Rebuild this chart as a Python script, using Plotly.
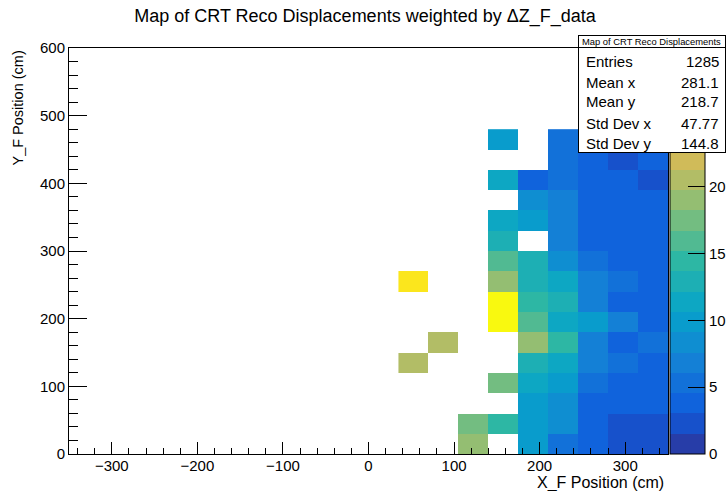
import numpy as np
import plotly.graph_objects as go

# ---------------- data ----------------
x_edges = [35, 70, 105, 140, 175, 210, 245, 280, 315, 350]          # cm
y_edges = [0, 30, 60, 90, 120, 150, 180, 210, 240, 270, 300, 330, 360, 390, 420, 450, 480]  # cm
N = None
# rows from y=0 upward, columns x=35..350
z_rows = [
    [N,    N,    19.0, N,    9.9,  5.3,  3.8, 2.3, 2.3],
    [N,    N,    17.5, 14.4, 9.9,  8.4,  3.8, 2.3, 2.3],
    [N,    N,    N,    N,    9.9,  8.4,  3.8, 3.8, 3.8],
    [N,    N,    N,    17.5, 11.4, 9.9,  5.3, 3.8, 3.8],
    [20.5, N,    N,    N,    12.9, 11.4, 6.8, 5.3, 3.8],
    [N,    20.5, N,    N,    19.0, 14.4, 6.8, 3.8, 5.3],
    [N,    N,    N,    30.4, 16.0, 11.4, 9.9, 6.8, 3.8],
    [N,    N,    N,    29.9, 14.4, 12.9, 6.8, 3.8, 3.8],
    [28.1, N,    N,    19.0, 12.9, 11.4, 6.8, 5.3, 3.8],
    [N,    N,    N,    16.0, 12.9, 8.4,  5.3, 3.8, 3.8],
    [N,    N,    N,    12.9, N,    6.8,  3.8, 3.8, 3.8],
    [N,    N,    N,    11.4, 9.9,  6.8,  3.8, 3.8, 3.8],
    [N,    N,    N,    N,    8.4,  6.8,  3.8, 3.8, 3.8],
    [N,    N,    N,    11.4, 3.8,  5.3,  3.8, 3.8, 2.3],
    [N,    N,    N,    N,    N,    5.3,  3.8, 2.3, 3.8],
    [N,    N,    N,    9.9,  N,    5.3,  N,   N,   N],
]
z_max = 30.4
stat_labels = ["Entries", "Mean x", "Mean y", "Std Dev x", "Std Dev y"]
stat_values = ["1285", "281.1", "218.7", "47.77", "144.8"]

# ---------------- kBird palette, 20 contour bands ----------------
stops = np.linspace(0, 1, 9)
red = [0.2082, 0.0592, 0.0780, 0.0232, 0.1802, 0.5301, 0.8186, 0.9956, 0.9764]
green = [0.1664, 0.3599, 0.5041, 0.6419, 0.7178, 0.7492, 0.7328, 0.7862, 0.9832]
blue = [0.5293, 0.8684, 0.8385, 0.7914, 0.6425, 0.4662, 0.3499, 0.1968, 0.0539]
ndiv = 20
cscale = []
for i in range(ndiv):
    t = int((i + 0.99) * 255 / ndiv) / 255.0
    r = np.interp(t, stops, red); g = np.interp(t, stops, green); b = np.interp(t, stops, blue)
    col = "rgb(%d,%d,%d)" % (round(r * 255), round(g * 255), round(b * 255))
    cscale.append([i / ndiv, col])
    cscale.append([(i + 1) / ndiv, col])

# ---------------- geometry (pixels) ----------------
W, H = 727, 491
L, R, T, B = 69, 668, 48, 454
pw, ph = R - L, B - T
def px(x):
    return (x - L) / pw
def py(y):
    return (B - y) / ph

FONT = "Liberation Sans, Arial, sans-serif"

fig = go.Figure()
fig.add_trace(go.Heatmap(
    x=x_edges, y=y_edges, z=z_rows,
    zmin=0, zmax=z_max, colorscale=cscale,
    hoverongaps=False,
    colorbar=dict(
        x=px(670), xanchor="left", xpad=0,
        y=0, yanchor="bottom", ypad=0, len=1, lenmode="fraction",
        thickness=35, thicknessmode="pixels",
        outlinecolor="black", outlinewidth=1,
        tickmode="array", tickvals=[0, 5, 10, 15, 20], ticktext=["0", "5", "10", "15", "20"],
        ticks="inside", ticklen=17, tickcolor="black", tickwidth=1,
        tickfont=dict(family=FONT, size=15, color="black"),
    ),
))

axis_common = dict(
    showgrid=False, zeroline=False, showline=True, mirror=True,
    linecolor="black", linewidth=1, ticks="inside", tickcolor="black", tickwidth=1,
    tickfont=dict(family=FONT, size=15, color="black"),
)
fig.update_xaxes(range=[-350, 350], tickmode="linear", tick0=-300, dtick=100, ticklen=12,
                 ticklabelstandoff=-2,
                 minor=dict(dtick=20, tick0=0, ticklen=6, ticks="inside", tickcolor="black", showgrid=False),
                 **axis_common)
fig.update_yaxes(range=[0, 600], tickmode="linear", tick0=0, dtick=100, ticklen=18,
                 minor=dict(dtick=20, tick0=0, ticklen=9, ticks="inside", tickcolor="black", showgrid=False),
                 **axis_common)

ann = []
# axis titles
ann.append(dict(text="X_F Position (cm)", xref="paper", yref="paper", x=px(666), y=py(483),
                xanchor="right", yanchor="middle", showarrow=False,
                font=dict(family=FONT, size=16, color="black")))
ann.append(dict(text="Y_F Position (cm)", xref="paper", yref="paper", x=px(17), y=py(49),
                xanchor="center", yanchor="top", textangle=-90, showarrow=False,
                font=dict(family=FONT, size=14.5, color="black")))
# stats box
bx0, bx1, by0, by1 = 578, 725, 35, 152
ann.append(dict(text=" ", xref="paper", yref="paper", x=px(bx0), y=py(by0), xanchor="left", yanchor="top",
                width=bx1 - bx0 - 1, height=by1 - by0 - 1, showarrow=False, bgcolor="white",
                bordercolor="black", borderwidth=1, borderpad=0))
ann.append(dict(text=" ", xref="paper", yref="paper", x=px(bx0), y=py(by0), xanchor="left", yanchor="top",
                width=bx1 - bx0 - 1, height=47 - by0 - 1, showarrow=False, bgcolor="white",
                bordercolor="black", borderwidth=1, borderpad=0))
ann.append(dict(text="Map of CRT Reco Displacements", xref="paper", yref="paper",
                x=px((bx0 + bx1) / 2), y=py(41), xanchor="center", yanchor="middle", showarrow=False,
                font=dict(family=FONT, size=9.4, color="black")))
row_y = [61, 82, 102, 123, 143]
for lab, val, yy in zip(stat_labels, stat_values, row_y):
    ann.append(dict(text=lab, xref="paper", yref="paper", x=px(584), y=py(yy), xanchor="left",
                    yanchor="middle", showarrow=False, font=dict(family=FONT, size=15, color="black")))
    ann.append(dict(text=val, xref="paper", yref="paper", x=px(721), y=py(yy), xanchor="right",
                    yanchor="middle", showarrow=False, font=dict(family=FONT, size=15, color="black")))

fig.update_layout(
    width=W, height=H, autosize=False,
    margin=dict(l=L, r=W - R, t=T, b=H - B, pad=0, autoexpand=False),
    paper_bgcolor="white", plot_bgcolor="white",
    title=dict(text="Map of CRT Reco Displacements weighted by ΔZ_F_data", xref="paper",
               x=px(365), xanchor="center", yref="container", y=1 - 16 / H, yanchor="middle",
               font=dict(family=FONT, size=18, color="black")),
    annotations=ann,
    showlegend=False,
)
fig.write_html("out.html")
